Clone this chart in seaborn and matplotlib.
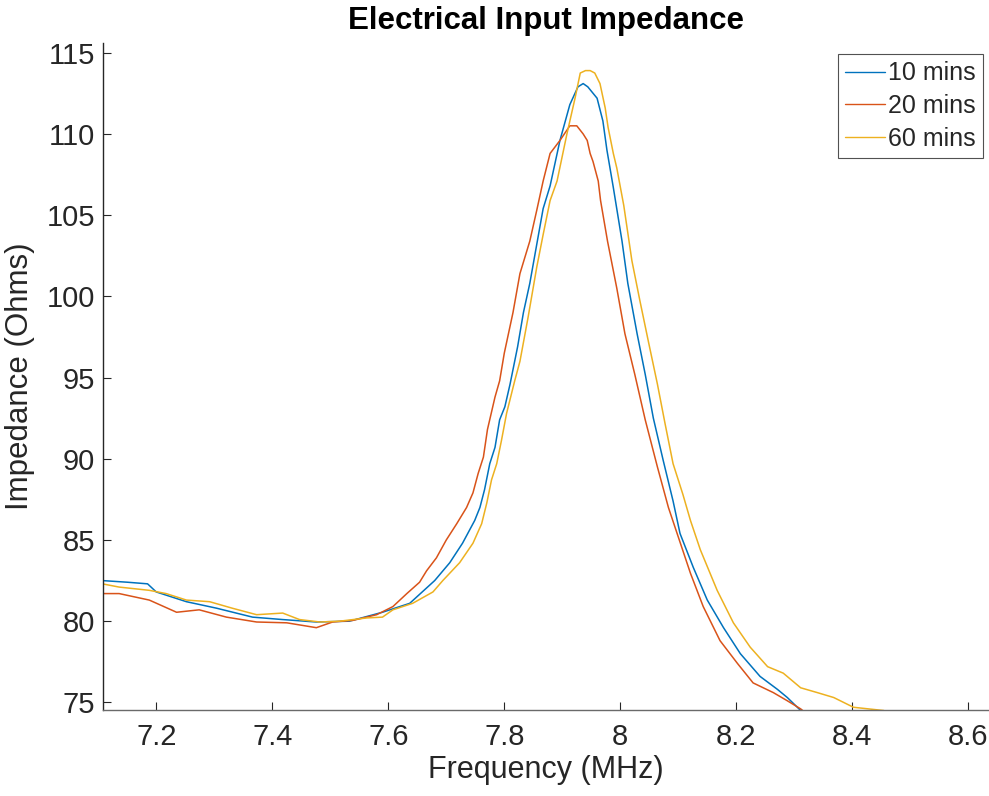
#!/usr/bin/env python
# coding=utf-8
import numpy as np
import pandas as pd
import matplotlib
matplotlib.use("Agg")
import matplotlib.pyplot as plt
import seaborn as sns

# 读图得到的数据 (MHz, Ohms)
freq_10 = [7.107, 7.150, 7.185, 7.200, 7.252, 7.304, 7.366, 7.418, 7.476, 7.533,
           7.590, 7.637, 7.680, 7.706, 7.728, 7.749, 7.758, 7.766, 7.775, 7.784,
           7.792, 7.801, 7.810, 7.823, 7.833, 7.844, 7.856, 7.867, 7.879, 7.896,
           7.913, 7.927, 7.936, 7.944, 7.960, 7.970, 7.977, 7.988, 8.003, 8.013,
           8.029, 8.043, 8.057, 8.074, 8.091, 8.103, 8.126, 8.150, 8.178, 8.207,
           8.241, 8.271, 8.288, 8.311, 8.325]
imp_10 = [82.5, 82.4, 82.3, 81.8, 81.2, 80.8, 80.25, 80.1, 79.95, 80.0,
          80.55, 81.1, 82.5, 83.6, 84.8, 86.2, 87.0, 88.1, 89.7, 90.7,
          92.4, 93.2, 94.6, 96.9, 99.0, 100.8, 103.2, 105.4, 106.8, 109.6,
          111.8, 112.9, 113.1, 112.9, 112.2, 110.8, 109.0, 106.7, 103.4, 100.8,
          97.7, 95.2, 92.5, 89.9, 87.4, 85.4, 83.3, 81.3, 79.6, 78.0,
          76.6, 75.8, 75.3, 74.5, 74.2]

freq_20 = [7.107, 7.136, 7.188, 7.235, 7.274, 7.321, 7.373, 7.425, 7.476, 7.504,
           7.539, 7.580, 7.608, 7.632, 7.654, 7.666, 7.683, 7.700, 7.718, 7.735,
           7.746, 7.755, 7.764, 7.771, 7.784, 7.792, 7.800, 7.815, 7.827, 7.844,
           7.856, 7.867, 7.879, 7.896, 7.913, 7.925, 7.936, 7.943, 7.948, 7.953,
           7.962, 7.966, 7.978, 7.994, 8.008, 8.025, 8.043, 8.064, 8.083, 8.098,
           8.121, 8.143, 8.172, 8.202, 8.229, 8.264, 8.288, 8.311, 8.325]
imp_20 = [81.7, 81.7, 81.3, 80.55, 80.7, 80.25, 79.95, 79.9, 79.6, 79.95,
          80.05, 80.4, 80.9, 81.7, 82.4, 83.1, 83.9, 85.0, 86.0, 87.0,
          87.9, 89.1, 90.1, 91.8, 93.8, 94.8, 96.5, 99.0, 101.4, 103.4,
          105.3, 107.1, 108.8, 109.6, 110.5, 110.5, 110.0, 109.6, 108.8, 108.3,
          107.1, 105.9, 103.4, 100.5, 97.7, 95.2, 92.4, 89.5, 87.0, 85.4,
          82.95, 80.9, 78.8, 77.4, 76.2, 75.6, 75.1, 74.6, 74.2]

freq_60 = [7.107, 7.136, 7.188, 7.217, 7.252, 7.292, 7.331, 7.373, 7.418, 7.447,
           7.482, 7.516, 7.563, 7.590, 7.608, 7.642, 7.677, 7.694, 7.723, 7.746,
           7.761, 7.770, 7.778, 7.787, 7.795, 7.804, 7.818, 7.827, 7.841, 7.856,
           7.867, 7.879, 7.891, 7.908, 7.922, 7.931, 7.940, 7.948, 7.956, 7.965,
           7.974, 7.979, 7.988, 7.994, 8.006, 8.020, 8.034, 8.048, 8.064, 8.077,
           8.091, 8.108, 8.121, 8.138, 8.167, 8.195, 8.224, 8.254, 8.281, 8.311,
           8.340, 8.368, 8.402, 8.454, 8.470]
imp_60 = [82.3, 82.1, 81.9, 81.7, 81.3, 81.2, 80.8, 80.4, 80.5, 80.1,
          79.95, 80.0, 80.2, 80.25, 80.7, 81.1, 81.8, 82.5, 83.6, 84.8,
          86.0, 87.3, 88.7, 89.7, 91.1, 92.8, 94.8, 96.0, 98.7, 101.8,
          103.8, 105.9, 107.1, 110.0, 112.2, 113.75, 113.9, 113.9, 113.75, 113.1,
          111.6, 110.4, 108.8, 107.9, 105.6, 102.2, 99.7, 97.3, 94.6, 92.2,
          89.7, 87.8, 86.2, 84.4, 81.9, 79.9, 78.4, 77.2, 76.8, 75.9,
          75.6, 75.3, 74.7, 74.5, 74.3]

labels = ["10 mins", "20 mins", "60 mins"]
colors = ["#0072BD", "#D95319", "#EDB120"]
x_ticks = [7.2, 7.4, 7.6, 7.8, 8.0, 8.2, 8.4, 8.6]
x_tick_labels = ["7.2", "7.4", "7.6", "7.8", "8", "8.2", "8.4", "8.6"]
y_ticks = [75, 80, 85, 90, 95, 100, 105, 110, 115]

df = pd.concat([
    pd.DataFrame({"freq": freq_10, "imp": imp_10, "series": labels[0]}),
    pd.DataFrame({"freq": freq_20, "imp": imp_20, "series": labels[1]}),
    pd.DataFrame({"freq": freq_60, "imp": imp_60, "series": labels[2]}),
], ignore_index=True)

sns.set_theme(style="ticks")
plt.rcParams['font.family'] = ['Liberation Sans', 'DejaVu Sans']

fig = plt.figure(figsize=(9.89, 7.96), dpi=100)
ax = fig.add_axes([0.1044, 0.108, 0.8946, 0.838])

sns.lineplot(data=df, x="freq", y="imp", hue="series", hue_order=labels,
             palette=colors, estimator=None, sort=False, linewidth=1.1, ax=ax)

ax.set_xlim(7.1086, 8.634)
ax.set_ylim(74.53, 115.6)
ax.set_xticks(x_ticks)
ax.set_xticklabels(x_tick_labels)
ax.set_yticks(y_ticks)

txt = "#262626"
ax.tick_params(direction="in", length=6, width=0.8, labelsize=21,
               colors=txt, pad=6)
ax.tick_params(axis="x", pad=9)
for s in ["top", "right"]:
    ax.spines[s].set_visible(False)
ax.spines["left"].set_color(txt)
ax.spines["bottom"].set_color("#6a6a6a")
ax.spines["left"].set_linewidth(1.0)
ax.spines["bottom"].set_linewidth(1.0)

ax.set_title("Electrical Input Impedance", fontsize=22.5, fontweight="bold",
             color="black", pad=10)
ax.set_xlabel("Frequency (MHz)", fontsize=22, color=txt, labelpad=3)
ax.set_ylabel("Impedance (Ohms)", fontsize=22.5, color=txt, labelpad=8)

leg = ax.legend(loc="upper right", bbox_to_anchor=(0.9944, 0.9835),
                borderaxespad=0, fontsize=18, frameon=True, fancybox=False,
                handlelength=1.6, handletextpad=0.1, labelspacing=0.35,
                borderpad=0.3)
leg.get_frame().set_edgecolor(txt)
leg.get_frame().set_linewidth(0.8)
for line in leg.get_lines():
    line.set_linewidth(1.0)

fig.savefig("out.png", dpi=100)
